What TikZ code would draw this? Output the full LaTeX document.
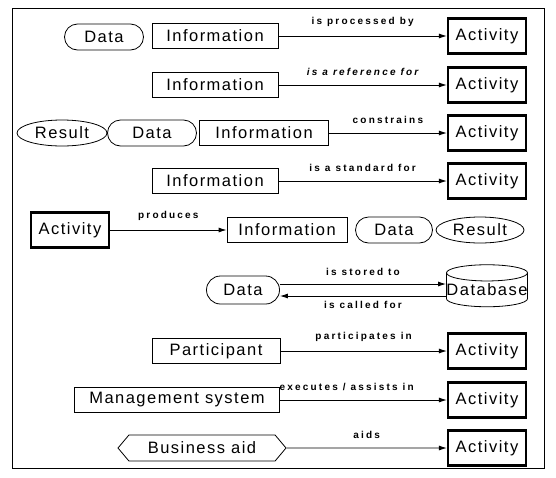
\documentclass[tikz,border=0pt]{standalone}
\usepackage{fontspec}
\usepackage{tikz}
\usetikzlibrary{arrows.meta,shapes.geometric,shapes.misc,shapes.symbols}
\newfontfamily\boxfont[LetterSpace=9]{Liberation Sans}
\newfontfamily\relfont[LetterSpace=22]{Liberation Sans}

\begin{document}
\begin{tikzpicture}[x=1pt,y=-1pt,
	every node/.style={inner sep=0pt,font=\boxfont\fontsize{16.5}{18}\selectfont},
	infobox/.style={draw,line width=0.8pt,minimum height=25pt},
	actbox/.style={draw,line width=2.2pt,minimum width=78pt,minimum height=35pt},
	ovalbox/.style={draw,line width=0.8pt,rounded rectangle,minimum height=26pt},
	resbox/.style={draw,line width=0.8pt,ellipse,minimum height=26pt},
	aidbox/.style={draw,line width=0.8pt,signal,signal to=west and east,signal pointer angle=100,minimum width=168pt,minimum height=26pt},
	dbbox/.style={draw,line width=0.8pt,cylinder,shape border rotate=90,aspect=0.2,minimum width=78pt,minimum height=42pt},
	relarrow/.style={line width=0.9pt,-{Latex[length=8pt,width=5pt]}},
	rellabel/.style={font=\relfont\bfseries\fontsize{10}{12}\selectfont}]
\useasboundingbox (0,0) rectangle (556,477);
\draw[line width=0.8pt] (12,8) rectangle (544,468);

% right column
\foreach \i/\y in {1/36,2/85,3/133,4/181,7/351,8/400,9/448}
	\node[actbox] (act\i) at (487,\y) {Activity};

\node[ovalbox,minimum width=79pt] (data1) at (104,37) {Data};
\node[infobox,minimum width=126pt] (info1) at (215,36) {Information};
\draw[relarrow] (info1) -- (act1) node[rellabel,above=9pt,midway] {is processed by};

\node[infobox,minimum width=126pt] (info2) at (215,85) {Information};
\draw[relarrow] (info2) -- (act2) node[rellabel,above=9pt,midway] {\itshape is a reference for};

\node[resbox,minimum width=90pt] (result3) at (62,133) {Result};
\node[ovalbox,minimum width=89pt] (data3) at (152,133) {Data};
\node[infobox,minimum width=129pt] (info3) at (264,133) {Information};
\draw[relarrow] (info3) -- (act3) node[rellabel,above=9pt,midway] {constrains};

\node[infobox,minimum width=126pt] (info4) at (215,181) {Information};
\draw[relarrow] (info4) -- (act4) node[rellabel,above=9pt,midway] {is a standard for};

\node[actbox] (act5) at (70,230) {Activity};
\node[infobox,minimum width=120pt] (info5) at (287,230) {Information};
\node[ovalbox,minimum width=77pt] (data5) at (394,230) {Data};
\node[resbox,minimum width=88pt] (result5) at (480,230) {Result};
\draw[relarrow] (act5) -- (info5) node[rellabel,above=9pt,midway] {produces};

\node[ovalbox,minimum width=73pt,minimum height=28pt] (data6) at (243,290) {Data};
\node[dbbox] (db) at (487,290) {Database};
\draw[relarrow] ([yshift=6pt]data6.east) -- ([yshift=6pt]data6.east -| db.west)
	node[rellabel,above=8pt,midway] {is stored to};
\draw[relarrow] ([yshift=-6pt]db.west) -- ([yshift=-6pt]db.west -| data6.east)
	node[rellabel,below=5pt,midway] {is called for};

\node[infobox,minimum width=128pt] (part) at (216,351) {Participant};
\draw[relarrow] (part) -- (act7) node[rellabel,above=9pt,midway] {participates in};

\node[infobox,minimum width=205pt] (mgmt) at (177,400) {Management system};
\draw[relarrow] (mgmt) -- (act8) node[rellabel,above=9pt,pos=0.4] {executes / assists in};

\node[aidbox] (aid) at (202,448) {Business aid};
\draw[relarrow] (aid) -- (act9) node[rellabel,above=9pt,midway] {aids};
\end{tikzpicture}
\end{document}
